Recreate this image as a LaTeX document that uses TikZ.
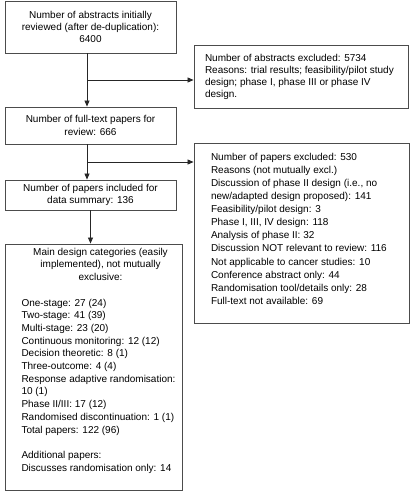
\documentclass[tikz,border=0pt]{standalone}
\usepackage{fontspec}
\setmainfont{Liberation Sans}
\usetikzlibrary{arrows.meta,calc}

\newcommand{\boxfont}[1]{\fontsize{10}{#1}\selectfont}

\tikzset{
  box/.style={draw=black!70, line width=0.9pt, inner sep=0pt},
  arr/.style={-{Triangle[length=6pt,width=5pt]}, line width=0.8pt, black!85},
}

\begin{document}
\begin{tikzpicture}[x=1pt,y=-1pt]
  \useasboundingbox (0,0) rectangle (410,498);
  % left column
  \node[box, minimum width=171pt, minimum height=52pt, align=center, font=\boxfont{12.2}] (abstr) at (90.5,27)
    {Number of abstracts initially\\ reviewed (after de-duplication):\\ 6400};
  \node[box, minimum width=171pt, minimum height=37pt, align=center, font=\boxfont{13}] (fulltext) at (90.5,125.5)
    {Number of full-text papers for\\ review: 666};
  \node[box, minimum width=171pt, minimum height=30pt, align=center, font=\boxfont{12}] (incl) at (90.5,195)
    {Number of papers included for\\ data summary: 136};
  \node[box, minimum width=177pt, minimum height=246pt, font=\boxfont{12.7}] (designs) at (93.5,367)
    {\hspace*{14pt}\parbox[c][238pt][t]{158pt}{%
      {\centering Main design categories (easily\\ implemented), not mutually\\ exclusive:\par}
      \vspace{12.7pt}
      \raggedright
      One-stage: 27 (24)\\
      Two-stage: 41 (39)\\
      Multi-stage: 23 (20)\\
      Continuous monitoring: 12 (12)\\
      Decision theoretic: 8 (1)\\
      Three-outcome: 4 (4)\\
      Response adaptive randomisation:\\
      10 (1)\\
      Phase II/III: 17 (12)\\
      Randomised discontinuation: 1 (1)\\
      Total papers: 122 (96)\par
      \vspace{12.7pt}
      Additional papers:\\
      Discusses randomisation only: 14}};
  % right column
  \node[box, minimum width=214pt, minimum height=63pt, font=\boxfont{12}] (exclA) at (301,76.5)
    {\parbox{192pt}{\raggedright
      Number of abstracts excluded: 5734\\
      Reasons: trial results; feasibility/pilot study\\
      design; phase I, phase III or phase IV\\
      design.}};
  \node[box, minimum width=215pt, minimum height=180pt, font=\boxfont{13.1}] (exclB) at (301.5,233)
    {\parbox[c][160pt][t]{181pt}{\raggedright
      Number of papers excluded: 530\\
      Reasons (not mutually excl.)\\
      Discussion of phase II design (i.e., no\\
      new/adapted design proposed): 141\\
      Feasibility/pilot design: 3\\
      Phase I, III, IV design: 118\\
      Analysis of phase II: 32\\
      Discussion NOT relevant to review: 116\\
      Not applicable to cancer studies: 10\\
      Conference abstract only: 44\\
      Randomisation tool/details only: 28\\
      Full-text not available: 69}};
  % connectors
  \draw[arr] ([xshift=-3.5pt]abstr.south) -- ([xshift=-3.5pt]abstr.south |- fulltext.north);
  \coordinate (j1) at ($([xshift=-3.5pt]abstr.south)!0.5!([xshift=-3.5pt]abstr.south |- fulltext.north)$);
  \draw[arr] (j1) -- (j1 -| exclA.west);
  \draw[arr] ([xshift=-3.5pt]fulltext.south) -- ([xshift=-3.5pt]fulltext.south |- incl.north);
  \coordinate (j2) at ($([xshift=-3.5pt]fulltext.south)!0.5!([xshift=-3.5pt]fulltext.south |- incl.north)$);
  \draw[arr] (j2) -- (j2 -| exclB.west);
  \draw[arr] (incl.south) -- (incl.south |- designs.north);
\end{tikzpicture}
\end{document}
